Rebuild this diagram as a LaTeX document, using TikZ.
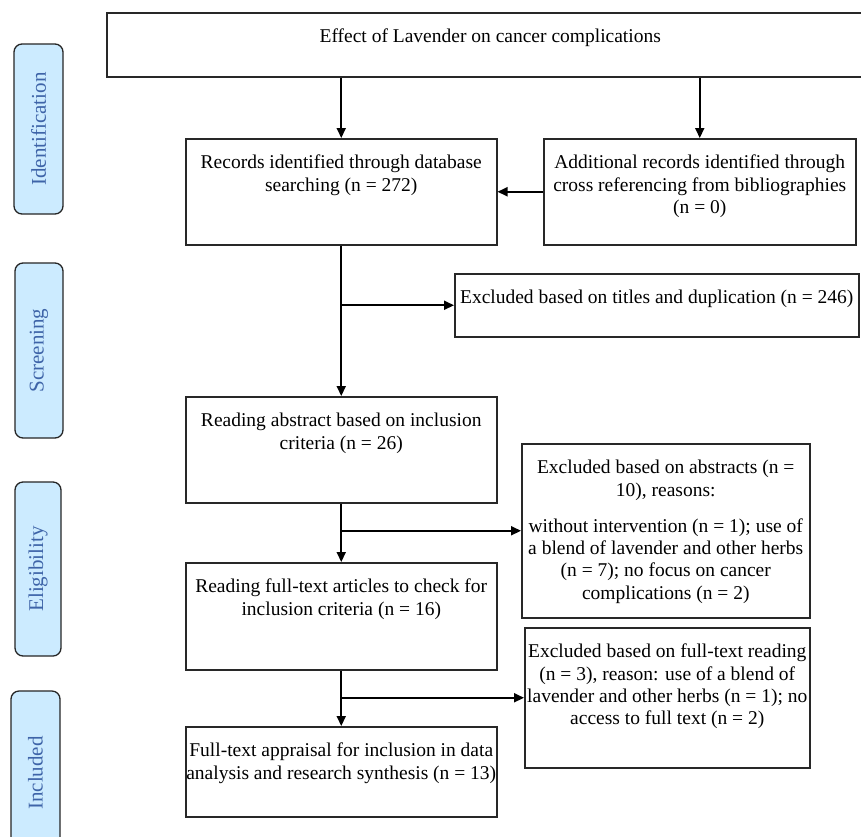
\documentclass[tikz,border=0pt]{standalone}
\usepackage{fontspec}
\setmainfont{Liberation Serif}
\usetikzlibrary{arrows.meta}
\definecolor{sidefill}{RGB}{204,235,255}
\definecolor{sidetext}{RGB}{62,100,168}
\definecolor{boxline}{RGB}{40,40,40}
\newcommand\bxtext[3]{\parbox[c][#2][t]{#1}{\centering\rule{0pt}{30pt}#3}}
\begin{document}
\begin{tikzpicture}[x=1pt,y=-1pt,
  box/.style={draw=boxline, line width=1.5pt, inner sep=0pt, anchor=north west,
    font=\fontsize{19.5pt}{22.4pt}\selectfont},
  sidebox/.style={draw=black!85, line width=1.3pt, fill=sidefill, rounded corners=8pt,
    rotate=90, inner sep=0pt, text=sidetext, font=\fontsize{21pt}{24pt}\selectfont},
  arr/.style={line width=2pt, -{Triangle[length=10pt,width=9pt]}}]
\useasboundingbox (0,0) rectangle (861,836);
\clip (0,0) rectangle (861,836);
\fill[white] (0,0) rectangle (861,836);

% side labels
\node[sidebox, minimum width=170pt, minimum height=49pt] (sid) at (38.5,129) {Identification};
\node[sidebox, minimum width=175pt, minimum height=48pt] (sscr) at (39,350.5) {Screening};
\node[sidebox, minimum width=174pt, minimum height=46pt] (seli) at (38,569) {Eligibility};
\node[sidebox, minimum width=164pt, minimum height=49pt] (sinc) at (35.5,773) {Included};

% boxes
\node[box] (top) at (106,12) {\bxtext{767pt}{64pt}{Effect of Lavender on cancer complications}};
\node[box] (rec) at (185,138) {\bxtext{311pt}{106pt}{Records identified through database\\ searching (n = 272)}};
\node[box] (add) at (543,138) {\bxtext{312pt}{106pt}{Additional records identified through\\ cross referencing from bibliographies\\ (n = 0)}};
\node[box] (tit) at (454,273) {\bxtext{404pt}{63pt}{Excluded based on titles and duplication (n = 246)}};
\node[box] (abs) at (185,396) {\bxtext{311pt}{106pt}{Reading abstract based on inclusion\\ criteria (n = 26)}};
\node[box] (exabs) at (521,443) {\bxtext{288pt}{174pt}{Excluded based on abstracts (n =\\ 10), reasons:\par\vspace{13.5pt}without intervention (n = 1); use of\\ a blend of lavender and other herbs\\ (n = 7); no focus on cancer\\ complications (n = 2)}};
\node[box] (full) at (185,562) {\bxtext{311pt}{107pt}{Reading full-text articles to check for\\ inclusion criteria (n = 16)}};
\node[box] (exfull) at (524,627) {\bxtext{285pt}{140pt}{Excluded based on full-text reading\\ (n = 3), reason: use of a blend of\\ lavender and other herbs (n = 1); no\\ access to full text (n = 2)}};
\node[box] (appr) at (185,726) {\bxtext{311pt}{90pt}{Full-text appraisal for inclusion in data\\ analysis and research synthesis (n = 13)}};

% connectors
\draw[arr] (top.south -| rec.north) -- (rec.north);
\draw[arr] (top.south -| add.north) -- (add.north);
\draw[arr] (add.west) -- (rec.east |- add.west);
\draw[arr] (rec.south) -- (abs.north);
\draw[arr] (rec.south |- tit.west) -- (tit.west);
\draw[arr] (abs.south) -- (full.north);
\draw[arr] (abs.south |- exabs.west) -- (exabs.west);
\draw[arr] (full.south) -- (appr.north);
\draw[arr] (full.south |- exfull.west) -- (exfull.west);
\end{tikzpicture}
\end{document}
